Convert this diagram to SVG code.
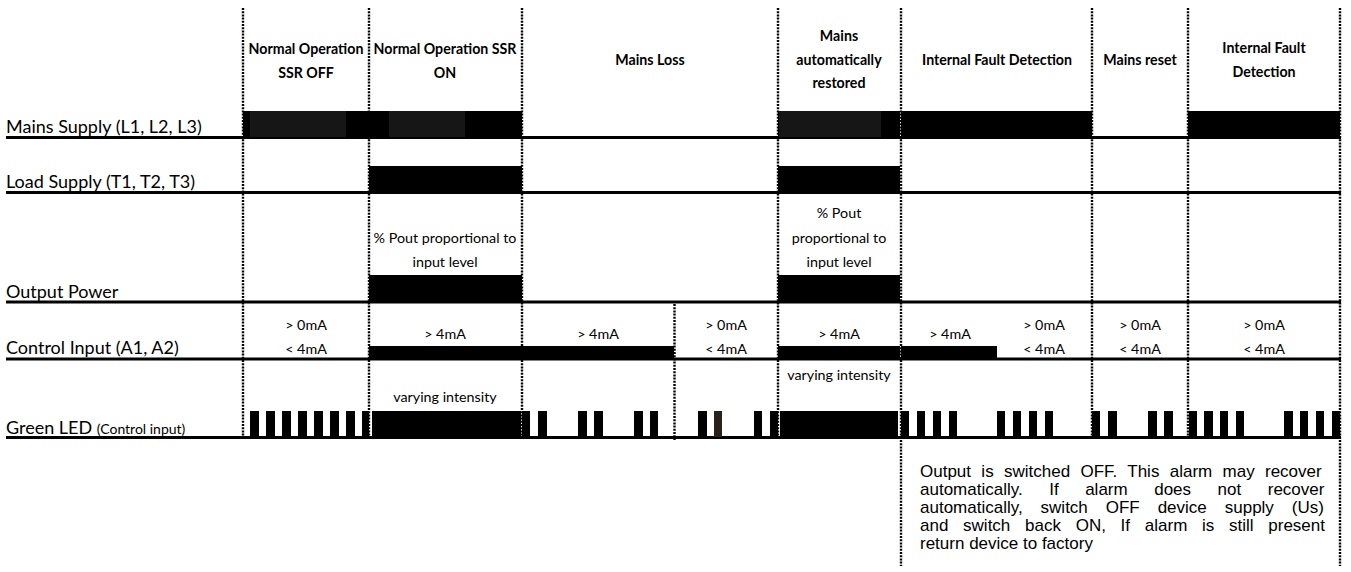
<svg xmlns="http://www.w3.org/2000/svg" width="1351" height="572" viewBox="0 0 1351 572">
<style>
.hdr{font-family:Lato,"Open Sans",sans-serif;font-weight:bold;font-size:14.2px;fill:#000;text-anchor:middle}
.lbl{font-family:Lato,"Open Sans",sans-serif;font-size:18px;fill:#000}
.sm{font-family:Lato,"Open Sans",sans-serif;font-size:14.3px;fill:#000;text-anchor:middle}
.note{font-family:"Liberation Sans",Arial,sans-serif;font-size:17px;fill:#000}
.dot{stroke:#000;stroke-width:2.4;stroke-dasharray:2 1.2;fill:none}
.base{stroke:#000;stroke-width:3;fill:none}
.bar{fill:#000}
.patch{fill:#161616}
</style>
<rect width="1351" height="572" fill="#fff"/>

<g id="connectors">
  <line class="base" x1="6" y1="137.5" x2="1341" y2="137.5"/>
  <line class="base" x1="6" y1="192.5" x2="1341" y2="192.5"/>
  <line class="base" x1="6" y1="302" x2="1341" y2="302"/>
  <line class="base" x1="6" y1="359" x2="1341" y2="359"/>
  <line class="base" x1="6" y1="437.5" x2="1341" y2="437.5"/>
  <line class="dot" x1="243" y1="8" x2="243" y2="440"/>
  <line class="dot" x1="369" y1="8" x2="369" y2="440"/>
  <line class="dot" x1="522" y1="8" x2="522" y2="440"/>
  <line class="dot" x1="674.5" y1="304" x2="674.5" y2="440"/>
  <line class="dot" x1="778" y1="8" x2="778" y2="440"/>
  <line class="dot" x1="901" y1="8" x2="901" y2="566"/>
  <line class="dot" x1="1092" y1="8" x2="1092" y2="440"/>
  <line class="dot" x1="1188" y1="8" x2="1188" y2="440"/>
  <line class="dot" x1="1340" y1="8" x2="1340" y2="566"/>
</g>

<g id="row-labels">
  <text class="lbl" x="6" y="133">Mains Supply (L1, L2, L3)</text>
  <text class="lbl" x="6" y="188">Load Supply (T1, T2, T3)</text>
  <text class="lbl" x="6" y="298">Output Power</text>
  <text class="lbl" x="6" y="354">Control Input (A1, A2)</text>
  <text class="lbl" x="6" y="434">Green LED <tspan font-size="14px">(Control input)</tspan></text>
</g>

<g id="col-normal-off">
  <text class="hdr" x="306" y="54">Normal Operation</text>
  <text class="hdr" x="306" y="78">SSR OFF</text>
  <rect class="bar" x="243" y="111" width="126" height="28"/>
  <rect class="patch" x="250" y="111" width="96" height="26"/>
  <text class="sm" x="306" y="330">&gt; 0mA</text>
  <text class="sm" x="306" y="353.5">&lt; 4mA</text>
  <rect class="bar" x="250" y="411" width="9" height="26"/>
  <rect class="bar" x="266" y="411" width="9" height="26"/>
  <rect class="bar" x="282" y="411" width="9" height="26"/>
  <rect class="bar" x="298" y="411" width="9" height="26"/>
  <rect class="bar" x="314" y="411" width="9" height="26"/>
  <rect class="bar" x="330" y="411" width="9" height="26"/>
  <rect class="bar" x="346" y="411" width="9" height="26"/>
  <rect class="bar" x="362" y="411" width="7" height="26"/>
</g>

<g id="col-normal-on">
  <text class="hdr" x="445" y="54">Normal Operation SSR</text>
  <text class="hdr" x="445" y="78">ON</text>
  <rect class="bar" x="369" y="111" width="153" height="28"/>
  <rect class="patch" x="389" y="111" width="76" height="26"/>
  <rect class="bar" x="369" y="166" width="153" height="27"/>
  <text class="sm" x="445" y="243">% Pout proportional to</text>
  <text class="sm" x="445" y="267">input level</text>
  <rect class="bar" x="369" y="275" width="153" height="27"/>
  <text class="sm" x="445" y="339">&gt; 4mA</text>
  <rect class="bar" x="369" y="346" width="153" height="14"/>
  <text class="sm" x="445" y="401.5">varying intensity</text>
  <rect class="bar" x="372" y="411" width="149" height="26"/>
</g>

<g id="col-mains-loss">
  <text class="hdr" x="650" y="65">Mains Loss</text>
  <text class="sm" x="598" y="339">&gt; 4mA</text>
  <rect class="bar" x="522" y="346" width="152" height="14"/>
  <text class="sm" x="726" y="330">&gt; 0mA</text>
  <text class="sm" x="726" y="353.5">&lt; 4mA</text>
  <rect class="bar" x="522" y="411" width="8" height="26"/>
  <rect class="bar" x="538" y="411" width="9" height="26"/>
  <rect class="bar" x="578" y="411" width="9" height="26"/>
  <rect class="bar" x="594" y="411" width="9" height="26"/>
  <rect class="bar" x="634" y="411" width="9" height="26"/>
  <rect class="bar" x="650" y="411" width="8" height="26"/>
  <rect class="bar" x="698" y="411" width="9" height="26"/>
  <rect x="714" y="411" width="8" height="26" fill="#26221a"/>
  <rect class="bar" x="754" y="411" width="8" height="26"/>
  <rect class="bar" x="770" y="411" width="8" height="26"/>
</g>

<g id="col-mains-restored">
  <text class="hdr" x="839" y="41">Mains</text>
  <text class="hdr" x="839" y="65">automatically</text>
  <text class="hdr" x="839" y="88">restored</text>
  <rect class="bar" x="778" y="111" width="122" height="28"/>
  <rect class="patch" x="779" y="111" width="102" height="26"/>
  <rect class="bar" x="778" y="166" width="122" height="27"/>
  <text class="sm" x="839" y="218">% Pout</text>
  <text class="sm" x="839" y="243">proportional to</text>
  <text class="sm" x="839" y="267">input level</text>
  <rect class="bar" x="778" y="275" width="122" height="27"/>
  <text class="sm" x="839" y="339">&gt; 4mA</text>
  <rect class="bar" x="778" y="346" width="122" height="14"/>
  <text class="sm" x="839" y="379.5">varying intensity</text>
  <rect class="bar" x="780" y="411" width="118" height="26"/>
</g>

<g id="col-internal-fault-1">
  <text class="hdr" x="997" y="65">Internal Fault Detection</text>
  <rect class="bar" x="901" y="111" width="191" height="28"/>
  <text class="sm" x="950" y="339">&gt; 4mA</text>
  <rect class="bar" x="901" y="346" width="96" height="14"/>
  <text class="sm" x="1044" y="330">&gt; 0mA</text>
  <text class="sm" x="1044" y="353.5">&lt; 4mA</text>
  <rect class="bar" x="901" y="411" width="8" height="26"/>
  <rect class="bar" x="917" y="411" width="8" height="26"/>
  <rect class="bar" x="933" y="411" width="8" height="26"/>
  <rect class="bar" x="949" y="411" width="8" height="26"/>
  <rect class="bar" x="997" y="411" width="8" height="26"/>
  <rect class="bar" x="1013" y="411" width="8" height="26"/>
  <rect class="bar" x="1029" y="411" width="8" height="26"/>
  <rect class="bar" x="1045" y="411" width="8" height="26"/>
</g>

<g id="col-mains-reset">
  <text class="hdr" x="1140" y="65">Mains reset</text>
  <text class="sm" x="1140" y="330">&gt; 0mA</text>
  <text class="sm" x="1140" y="353.5">&lt; 4mA</text>
  <rect class="bar" x="1092" y="411" width="8" height="26"/>
  <rect class="bar" x="1108" y="411" width="9" height="26"/>
  <rect class="bar" x="1148" y="411" width="9" height="26"/>
  <rect class="bar" x="1164" y="411" width="9" height="26"/>
</g>

<g id="col-internal-fault-2">
  <text class="hdr" x="1264" y="53">Internal Fault</text>
  <text class="hdr" x="1264" y="76.5">Detection</text>
  <rect class="bar" x="1188" y="111" width="152" height="28"/>
  <text class="sm" x="1264" y="330">&gt; 0mA</text>
  <text class="sm" x="1264" y="353.5">&lt; 4mA</text>
  <rect class="bar" x="1189" y="411" width="8" height="26"/>
  <rect class="bar" x="1204" y="411" width="9" height="26"/>
  <rect class="bar" x="1220" y="411" width="8" height="26"/>
  <rect class="bar" x="1236" y="411" width="8" height="26"/>
  <rect class="bar" x="1284" y="411" width="9" height="26"/>
  <rect class="bar" x="1300" y="411" width="8" height="26"/>
  <rect class="bar" x="1316" y="411" width="8" height="26"/>
  <rect class="bar" x="1332" y="411" width="8" height="26"/>
</g>

<g id="fault-note">
  <text class="note" x="920" y="476.5" word-spacing="5.6">Output is switched OFF. This alarm may recover</text>
  <text class="note" x="920" y="494.5" word-spacing="21.8">automatically. If alarm does not recover</text>
  <text class="note" x="920" y="512.5" word-spacing="13.2">automatically, switch OFF device supply (Us)</text>
  <text class="note" x="920" y="530.5" word-spacing="10">and switch back ON, If alarm is still present</text>
  <text class="note" x="920" y="548.5">return device to factory</text>
</g>
</svg>
